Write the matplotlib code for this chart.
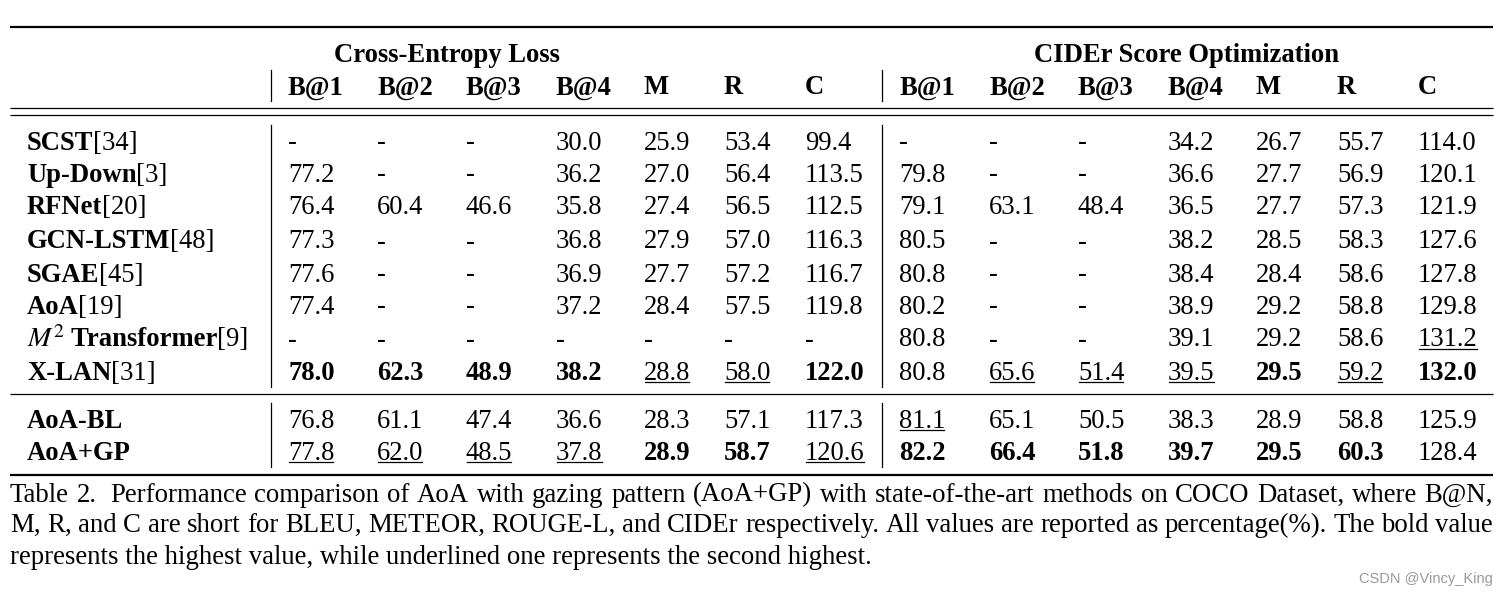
import matplotlib
matplotlib.use("Agg")
import matplotlib.pyplot as plt

plt.rcParams['font.family'] = ['Liberation Serif', 'DejaVu Serif']
plt.rcParams['mathtext.fontset'] = 'stix'

# ---------------- data ----------------
group_titles = ["Cross-Entropy Loss", "CIDEr Score Optimization"]
metrics = ["B@1", "B@2", "B@3", "B@4", "M", "R", "C"]

row_names_bold = ["SCST", "Up-Down", "RFNet", "GCN-LSTM", "SGAE", "AoA",
                  " Transformer", "X-LAN", "AoA-BL", "AoA+GP"]
row_refs = ["[34]", "[3]", "[20]", "[48]", "[45]", "[19]", "[9]", "[31]", "", ""]

xe_values = [
    ["-", "-", "-", "30.0", "25.9", "53.4", "99.4"],
    ["77.2", "-", "-", "36.2", "27.0", "56.4", "113.5"],
    ["76.4", "60.4", "46.6", "35.8", "27.4", "56.5", "112.5"],
    ["77.3", "-", "-", "36.8", "27.9", "57.0", "116.3"],
    ["77.6", "-", "-", "36.9", "27.7", "57.2", "116.7"],
    ["77.4", "-", "-", "37.2", "28.4", "57.5", "119.8"],
    ["-", "-", "-", "-", "-", "-", "-"],
    ["78.0", "62.3", "48.9", "38.2", "28.8", "58.0", "122.0"],
    ["76.8", "61.1", "47.4", "36.6", "28.3", "57.1", "117.3"],
    ["77.8", "62.0", "48.5", "37.8", "28.9", "58.7", "120.6"],
]
cider_values = [
    ["-", "-", "-", "34.2", "26.7", "55.7", "114.0"],
    ["79.8", "-", "-", "36.6", "27.7", "56.9", "120.1"],
    ["79.1", "63.1", "48.4", "36.5", "27.7", "57.3", "121.9"],
    ["80.5", "-", "-", "38.2", "28.5", "58.3", "127.6"],
    ["80.8", "-", "-", "38.4", "28.4", "58.6", "127.8"],
    ["80.2", "-", "-", "38.9", "29.2", "58.8", "129.8"],
    ["80.8", "-", "-", "39.1", "29.2", "58.6", "131.2"],
    ["80.8", "65.6", "51.4", "39.5", "29.5", "59.2", "132.0"],
    ["81.1", "65.1", "50.5", "38.3", "28.9", "58.8", "125.9"],
    ["82.2", "66.4", "51.8", "39.7", "29.5", "60.3", "128.4"],
]
# (row, col) marks; col 0-6 = XE, 7-13 = CIDEr
bold_cells = [(7, 0), (7, 1), (7, 2), (7, 3), (7, 6), (7, 11), (7, 13),
              (9, 4), (9, 5), (9, 7), (9, 8), (9, 9), (9, 10), (9, 11), (9, 12)]
under_cells = [(6, 13), (7, 4), (7, 5), (7, 8), (7, 9), (7, 10), (7, 12),
               (8, 7), (9, 0), (9, 1), (9, 2), (9, 3), (9, 6)]

caption_lines = [
    "Table 2.  Performance comparison of AoA with gazing pattern (AoA+GP) with state-of-the-art methods on COCO Dataset, where B@N,",
    "M, R, and C are short for BLEU, METEOR, ROUGE-L, and CIDEr respectively. All values are reported as percentage(%). The bold value",
    "represents the highest value, while underlined one represents the second highest.",
]
watermark = "CSDN @Vincy_King"

# ---------------- layout ----------------
W, H = 1508, 595
fig = plt.figure(figsize=(W / 100, H / 100), dpi=100)
ax = fig.add_axes([0, 0, 1, 1])
ax.set_xlim(0, W)
ax.set_ylim(H, 0)
ax.axis('off')
fig.canvas.draw()
renderer = fig.canvas.get_renderer()

FS = 19.2
col_x = [288, 377, 466, 556, 644, 724, 805, 899, 989, 1078, 1168, 1256, 1337, 1418]
row_y = [140, 172, 205, 239, 272, 304, 337, 370, 418, 450]
label_x = 27


def width_of(t):
    bb = t.get_window_extent(renderer=renderer)
    return bb.width


def put(x, y, s, bold=False, size=FS, **kw):
    t = ax.text(x, y, s, fontsize=size, fontweight='bold' if bold else 'normal',
                va='center_baseline', ha='left', **kw)
    return t

# rules
ax.plot([10, 1493], [27, 27], color='black', lw=1.6, solid_capstyle='butt')
ax.plot([10, 1493], [108, 108], color='black', lw=0.9, solid_capstyle='butt')
ax.plot([10, 1493], [115, 115], color='black', lw=0.9, solid_capstyle='butt')
ax.plot([10, 1493], [394, 394], color='black', lw=0.9, solid_capstyle='butt')
ax.plot([10, 1493], [475, 475], color='black', lw=1.6, solid_capstyle='butt')
for vx in (271, 882):
    ax.plot([vx, vx], [70, 101], color='black', lw=0.9)
    ax.plot([vx, vx], [125, 387], color='black', lw=0.9)
    ax.plot([vx, vx], [403, 467], color='black', lw=0.9)

# group titles
ax.text(447, 52, group_titles[0], fontsize=FS, fontweight='bold', ha='center', va='center_baseline')
ax.text(1187, 52, group_titles[1], fontsize=FS, fontweight='bold', ha='center', va='center_baseline')
# metric headers
for i, x in enumerate(col_x):
    put(x, 85, metrics[i % 7], bold=True)

# rows
for r, y in enumerate(row_y):
    x = label_x
    if r == 6:
        t = ax.text(x, y, r"$M^2$", fontsize=FS + 1, va='center_baseline', ha='left')
        x += width_of(t)
    t = put(x, y, row_names_bold[r], bold=True)
    x += width_of(t) - 0.5
    if row_refs[r]:
        put(x, y, row_refs[r])
    vals = xe_values[r] + cider_values[r]
    for c, s in enumerate(vals):
        b = (r, c) in bold_cells
        t = put(col_x[c], y, s, bold=b)
        if (r, c) in under_cells:
            w = width_of(t)
            ax.plot([col_x[c] + 1, col_x[c] + w - 1], [y + 12, y + 12], color='black', lw=0.9)

# caption (justified lines)
cap_y = [492, 522, 554]
CFS = 19.3
left, right = 10, 1493
for i, line in enumerate(caption_lines):
    y = cap_y[i]
    if i < len(caption_lines) - 1:
        tokens = line.split(' ')
        words, extra = [], []
        for tok in tokens:
            if tok == '':
                extra[-1] += 1
            else:
                words.append(tok)
                extra.append(0)
        texts = [ax.text(0, y, w, fontsize=CFS, va='center_baseline', ha='left') for w in words]
        widths = [width_of(t) for t in texts]
        extra_px = [e * 6 for e in extra]
        gap = (right - left - sum(widths) - sum(extra_px[:-1])) / (len(words) - 1)
        x = left
        for t, w, e in zip(texts, widths, extra_px):
            t.set_x(x)
            x += w + gap + e
    else:
        ax.text(left, y, line, fontsize=CFS, va='center_baseline', ha='left')

ax.text(1493, 579, watermark, fontsize=10.5, color='#999999', ha='right', va='center',
        family=['Liberation Sans', 'DejaVu Sans'])

fig.savefig('out.png', dpi=100)
